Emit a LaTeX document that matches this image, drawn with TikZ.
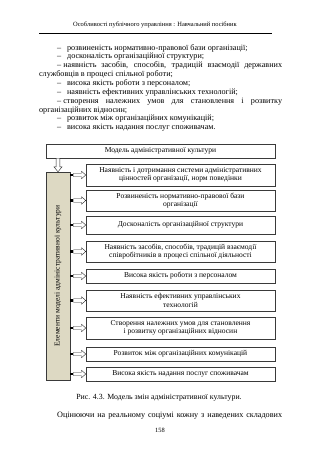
\documentclass[tikz,border=0pt]{standalone}
\usepackage{fontspec}
\setmainfont{Liberation Serif}
\usepackage{tikz}
\usetikzlibrary{calc,arrows.meta,positioning}
\definecolor{elemc}{HTML}{DDD9C3}
\definecolor{linec}{HTML}{3A3A3A}
\tikzset{
  pg/.style={font=\fontsize{15.2}{17}\selectfont,inner sep=0pt,text height=11pt,text depth=3pt},
  ln/.style={pg,anchor=west},
  box/.style={draw=linec,line width=0.9pt,fill=white,align=center,inner sep=0pt,
    font=\fontsize{14}{16}\selectfont,minimum width=351.6pt},
  elem/.style={draw=linec,line width=0.9pt,fill=elemc,inner sep=0pt,minimum width=44.6pt,
    minimum height=386.9pt,font=\fontsize{14}{16}\selectfont},
  arw/.style={draw=black!85,line width=0.7pt,fill=white,line join=miter},
  sq/.style={fill=black,inner sep=0pt,minimum width=5.6pt,minimum height=5pt}
}
\newcommand\jline[1]{\makebox[418.6pt][s]{#1}}
\newcommand\harr[2]{\draw[arw] let \p1=(#1), \p2=(#2) in
  (\x1,\y1-3.2pt) -- (\x2-8pt,\y1-3.2pt) -- (\x2-8pt,\y1-7pt) -- (\x2,\y1)
  -- (\x2-8pt,\y1+7pt) -- (\x2-8pt,\y1+3.2pt) -- (\x1,\y1+3.2pt) -- cycle;}
\newcommand\varr[2]{\draw[arw] let \p1=(#1), \p2=(#2) in
  (\x1-3.5pt,\y1) -- (\x1-3.5pt,\y2+9pt) -- (\x1-7.5pt,\y2+9pt) -- (\x1,\y2)
  -- (\x1+7.5pt,\y2+9pt) -- (\x1+3.5pt,\y2+9pt) -- (\x1+3.5pt,\y1) -- cycle;}
\begin{document}
\begin{tikzpicture}[x=1.86025pt,y=-1.86025pt]
\useasboundingbox (0,0) rectangle (320,453);
\node[pg,font=\fontsize{12}{14}\selectfont] (hdr) at (155,24) {Особливості публічного управління : Навчальний посібник};
\draw[line width=0.6pt] (39,33) -- (272,33);
\node[ln] (l1) at (57,48) {–\hspace{11pt}розвиненість нормативно-правової бази організації;};
\node[ln] (l2) at (57,56.85) {–\hspace{11pt}досконалість організаційної структури;};
\node[ln] (l3) at (57,65.7) {\jline{–\hspace{4pt}наявність засобів, способів, традицій взаємодії державних}};
\node[ln] (l4) at (39,74.55) {службовців в процесі спільної роботи;};
\node[ln] (l5) at (57,83.4) {–\hspace{11pt}висока якість роботи з персоналом;};
\node[ln] (l6) at (57,92.25) {–\hspace{11pt}наявність ефективних управлінських технологій;};
\node[ln] (l7) at (57,101.1) {\jline{–\hspace{4pt}створення належних умов для становлення і розвитку}};
\node[ln] (l8) at (39,109.95) {організаційних відносин;};
\node[ln] (l9) at (57,118.8) {–\hspace{11pt}розвиток між організаційних комунікацій;};
\node[ln] (l10) at (57,127.65) {–\hspace{11pt}висока якість надання послуг споживачам.};

\node[box,minimum width=426pt,minimum height=26pt] (top) at (160.5,151) {Модель адміністративної культури};
\node[elem] (elem) at (58,276) {\rotatebox{90}{Елементи моделі адміністративної культури}};
\node[box,minimum height=40.9pt] (b1) at (180.5,175) {Наявність і дотримання системи адміністративних\\цінностей організації, норм поведінки};
\node[box,minimum height=39.1pt] (b2) at (180.5,200.5) {Розвиненість нормативно-правової бази\\організації};
\node[box,minimum height=33.5pt] (b3) at (180.5,225) {Досконалість організаційної структури};
\node[box,minimum height=39.1pt] (b4) at (180.5,251.5) {Наявність засобів, способів, традицій взаємодії\\співробітників в процесі спільної діяльності};
\node[box,minimum height=26pt] (b5) at (180.5,276) {Висока якість роботи з персоналом};
\node[box,minimum height=39.1pt] (b6) at (180.5,300.5) {Наявність ефективних управлінських\\технологій};
\node[box,minimum height=40.9pt] (b7) at (180.5,328) {Створення належних умов для становлення\\і розвитку організаційних відносин};
\node[box,minimum height=26pt] (b8) at (180.5,354) {Розвиток між організаційних комунікацій};
\node[box,minimum height=26pt] (b9) at (180.5,374) {Висока якість надання послуг споживачам};
\varr{top.south -| elem.north}{elem.north}
\foreach \b in {b1,b2,b3,b4,b5,b6,b7,b8,b9}{
  \node[sq,anchor=west] (s\b) at (elem.east |- \b.west) {};
  \harr{s\b.east}{\b.west}
}

\node[pg,font=\fontsize{14.6}{17}\selectfont] (cap) at (159,397) {Рис. 4.3. Модель змін адміністративної культури.};
\node[ln] (par) at (57,415) {\jline{Оцінюючи на реальному соціумі кожну з наведених складових}};
\node[pg,font=\fontsize{12}{14}\selectfont] (pnum) at (160,430) {158};
\end{tikzpicture}
\end{document}
